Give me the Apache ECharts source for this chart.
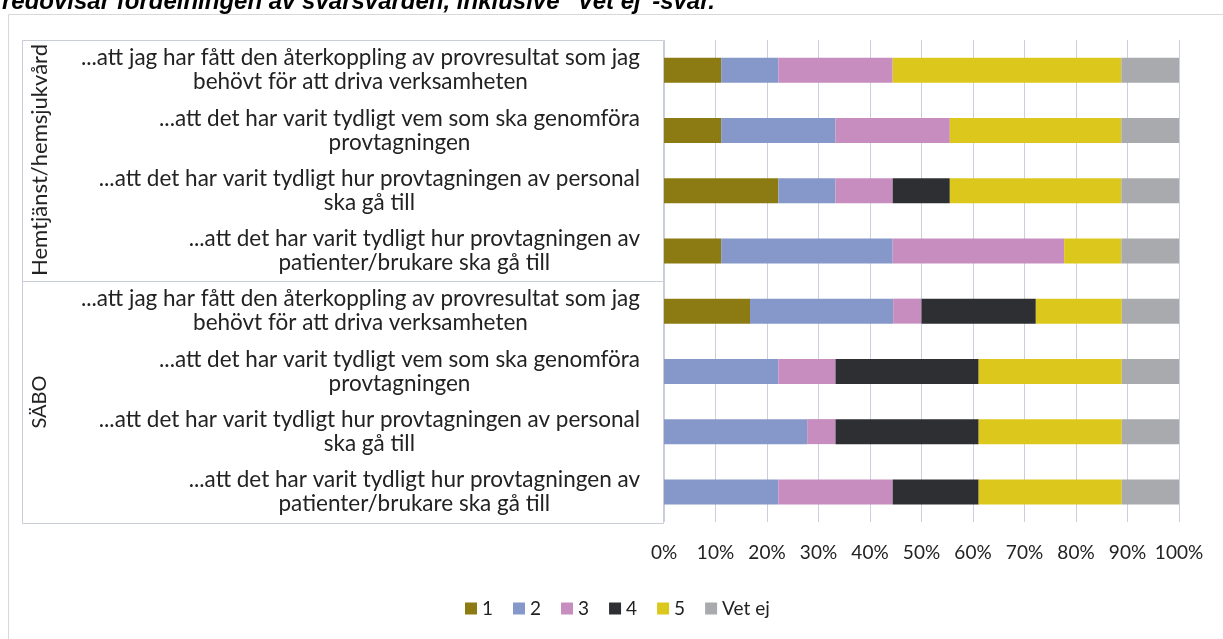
<!DOCTYPE html>
<html lang="sv">
<head>
    <meta charset="UTF-8">
    <title>Svarsfördelning</title>
    <script src="https://cdn.jsdelivr.net/npm/echarts@6/dist/echarts.min.js"></script>
    <style>
        html, body { margin: 0; padding: 0; background: #fff; }
        #main { width: 1223px; height: 639px; }
    </style>
</head>
<body>
<div id="main"></div>
<script>
    // frågor, uppifrån och ned (4 för hemtjänst, 4 för SÄBO)
    var categories = [
        '...att jag har fått den återkoppling av provresultat som jag\nbehövt för att driva verksamheten',
        '...att det har varit tydligt vem som ska genomföra\nprovtagningen',
        '...att det har varit tydligt hur provtagningen av personal\nska gå till',
        '...att det har varit tydligt hur provtagningen av\npatienter/brukare ska gå till',
        '...att jag har fått den återkoppling av provresultat som jag\nbehövt för att driva verksamheten',
        '...att det har varit tydligt vem som ska genomföra\nprovtagningen',
        '...att det har varit tydligt hur provtagningen av personal\nska gå till',
        '...att det har varit tydligt hur provtagningen av\npatienter/brukare ska gå till'
    ];
    var groups = ['Hemtjänst/hemsjukvård', 'SÄBO'];
    var seriesNames = ['1', '2', '3', '4', '5', 'Vet ej'];
    var colors = ['#8c7b12', '#8598c9', '#c78dbf', '#2e2f33', '#dcc81c', '#a9aaae'];

    // andel i procent
    var v1 = [11.1, 11.1, 22.2, 11.1, 16.7, 0, 0, 0];
    var v2 = [11.1, 22.2, 11.1, 33.3, 27.8, 22.2, 27.8, 22.2];
    var v3 = [22.2, 22.2, 11.1, 33.3, 5.5, 11.1, 5.5, 22.2];
    var v4 = [0, 0, 11.1, 0, 22.2, 27.8, 27.8, 16.7];
    var v5 = [44.4, 33.3, 33.3, 11.1, 16.7, 27.8, 27.8, 27.8];
    var v6 = [11.2, 11.2, 11.2, 11.2, 11.1, 11.1, 11.1, 11.1];
    var values = [v1, v2, v3, v4, v5, v6];

    var xTicks = [0, 10, 20, 30, 40, 50, 60, 70, 80, 90, 100];

    var font = 'Lato';
    var gridTop = 40, gridBottom = 522, gridLeft = 664, gridRight = 1179;

    var myChart = echarts.init(document.getElementById('main'));

    var series = [];
    for (var i = 0; i < seriesNames.length; i++) {
        series.push({
            name: seriesNames[i],
            type: 'bar',
            stack: 'tot',
            barWidth: 25,
            itemStyle: { color: colors[i] },
            data: values[i]
        });
    }

    var option = {
        animation: false,
        textStyle: { fontFamily: font },
        grid: {
            left: gridLeft,
            top: gridTop,
            width: gridRight - gridLeft,
            height: gridBottom - gridTop
        },
        xAxis: {
            type: 'value',
            min: xTicks[0],
            max: xTicks[xTicks.length - 1],
            interval: 10,
            axisLine: { show: false },
            axisTick: { show: false },
            axisLabel: {
                formatter: '{value}%',
                color: '#222',
                fontSize: 19,
                margin: 21,
                fontFamily: font
            },
            splitLine: { lineStyle: { color: '#c9cfdb', width: 1 } }
        },
        yAxis: {
            type: 'category',
            inverse: true,
            data: categories,
            axisLine: { show: false },
            axisTick: { show: false },
            axisLabel: {
                align: 'right',
                margin: 24,
                formatter: function (val) {
                    return val.split('\n').map(function (s) { return '{c|' + s + '}'; }).join('\n');
                },
                rich: {
                    c: { align: 'center', fontSize: 22.5, lineHeight: 24, color: '#222', fontFamily: font }
                }
            }
        },
        legend: {
            data: seriesNames,
            left: 460,
            top: 594,
            icon: 'rect',
            itemWidth: 12,
            itemHeight: 12,
            itemGap: 20,
            textStyle: { fontSize: 19, color: '#222', fontFamily: font }
        },
        graphic: [
            // avskuren rubrik
            {
                type: 'text', x: 2, y: 2,
                style: { text: 'redovisar fördelningen av svarsvärden, inklusive "Vet ej"-svar.',
                    font: 'italic bold 24px "Liberation Sans"', fill: '#000', verticalAlign: 'middle' }
            },
            // diagramram
            {
                type: 'rect', shape: { x: 8.5, y: 14.5, width: 1300, height: 700 },
                style: { fill: 'none', stroke: '#d6d8dc', lineWidth: 1 }
            },
            // tabellram för etiketter
            {
                type: 'rect', shape: { x: 22.5, y: 40.5, width: 641, height: 483 },
                style: { fill: 'none', stroke: '#c8cdd8', lineWidth: 1 }
            },
            {
                type: 'line', shape: { x1: 22, y1: 281.5, x2: 664, y2: 281.5 },
                style: { stroke: '#c8cdd8', lineWidth: 1 }
            },
            {
                type: 'text', x: 40, y: 160, rotation: Math.PI / 2,
                style: { text: groups[0], font: '22px ' + font, fill: '#222', align: 'center', verticalAlign: 'middle' }
            },
            {
                type: 'text', x: 40, y: 402, rotation: Math.PI / 2,
                style: { text: groups[1], font: '20px ' + font, fill: '#222', align: 'center', verticalAlign: 'middle' }
            }
        ],
        series: series
    };

    myChart.setOption(option);
</script>
</body>
</html>
